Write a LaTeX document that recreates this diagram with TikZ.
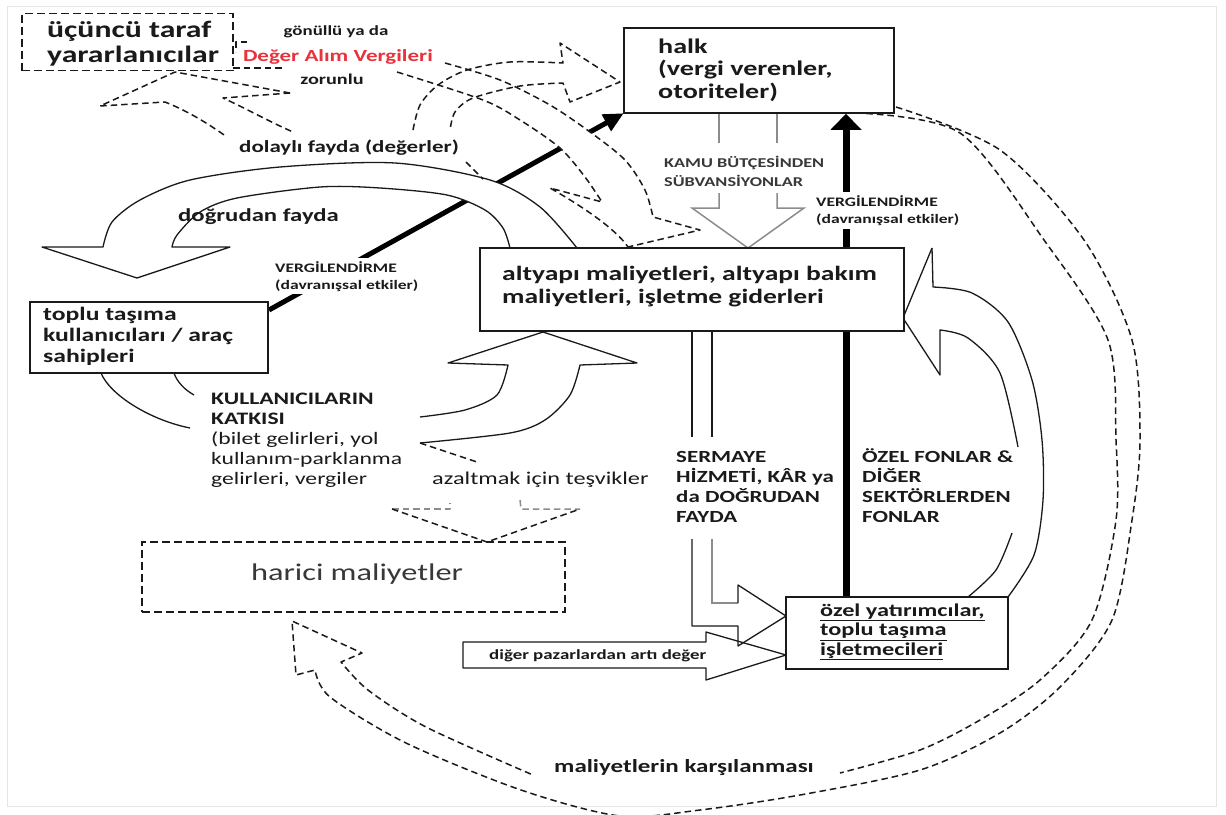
\documentclass[tikz,border=0pt]{standalone}
\usepackage{fontspec}
\setmainfont{Carlito}[FakeStretch=1.35]
\usetikzlibrary{arrows.meta,calc}
\newcommand\fsz[2]{\fontsize{#1}{#2}\selectfont}
\definecolor{ink}{HTML}{1A1A1A}
\definecolor{redtxt}{HTML}{E8323C}
\definecolor{grayln}{HTML}{8C8C8C}
\definecolor{dgray}{HTML}{383838}
\begin{document}
\begin{tikzpicture}[x=1pt,y=-1pt,
  solidln/.style={draw=ink, line width=1.3pt, line join=round},
  boxst/.style={draw=ink, line width=1.5pt, fill=white, inner sep=0pt},
  dboxst/.style={draw=ink, line width=1.5pt, dash pattern=on 8pt off 4pt, inner sep=0pt},
  dsh/.style={draw=ink, line width=1.5pt, dash pattern=on 6.5pt off 4pt, line join=round},
  gln/.style={draw=grayln, line width=1.5pt},
  thickln/.style={draw=black, line width=5pt},
  thickv/.style={draw=black, line width=7pt},
  txt/.style={inner sep=0pt, text=ink, align=left},
]
\useasboundingbox (0,0) rectangle (1226,814);
\fill[white] (0,0) rectangle (1226,814);
\draw[black!10, line width=1pt] (7,6) rectangle (1216,806);

% node geometry (boxes drawn later, but defined first for anchors)
\path (759,70.5) node[minimum width=270pt, minimum height=85pt, inner sep=0pt] (halkG) {};
\coordinate (d0) at (269,310);
\coordinate (vx) at (846,0);

% thick diagonal taxation arrow
\draw[thickln, -{Triangle[length=20pt,width=18pt]}] (d0) -- (halkG.south west);

% dogrudan fayda block arrow (white body)
\filldraw[solidln, fill=white] plot[smooth] coordinates {(577,248) (540,207) (490,180) (395,163) (280,167) (190,180) (140,200) (112,222) (103,247)}
  -- (42,247) -- (137,278) -- (230,247) -- (172,247)
  -- plot[smooth] coordinates {(172,247) (177,235) (200,212) (237,198) (320,187) (380,188) (447,195) (485,210) (503,228) (510,248)} -- cycle;

% big dashed arrow: Deger Alim Vergileri -> altyapi
\fill[white] plot[smooth] coordinates {(445,63) (500,80) (550,105) (590,132) (625,160) (645,190) (653,217)}
  -- (700,230) -- (628,247) .. controls (615,228) and (580,205) .. (550,188) -- (602,202)
  -- plot[smooth] coordinates {(602,202) (585,177) (560,148) (520,120) (483,100) (397,72)} -- cycle;
\draw[dsh] plot[smooth] coordinates {(445,63) (500,80) (550,105) (590,132) (625,160) (645,190) (653,217)} -- (700,230) -- (628,247);
\draw[dsh] plot[smooth] coordinates {(397,72) (483,100) (520,120) (560,148) (585,177) (602,202)} -- (550,188) .. controls (580,205) and (615,228) .. (628,247);

% dashed arrow to third-party beneficiaries
\draw[dsh] (290,93) -- (175,72) -- (100,106) -- (165,102) .. controls (190,112) and (210,125) .. (227,137);
\draw[dsh] (290,93) -- (223,98) .. controls (245,108) and (270,122) .. (293,132);
\draw[dsh] (233,68) -- (285,68);
\draw[dsh] (247,42) -- (236,42) -- (236,52);

% dashed arrow indirect benefit -> halk
\draw[dsh] plot[smooth] coordinates {(413,130) (420,105) (438,85) (467,70) (510,62) (563,63)} -- (560,43) -- (620,82) -- (570,102) -- (563,83)
  -- plot[smooth] coordinates {(563,83) (520,86) (473,98) (455,112) (450,130)};
\draw[dsh] (466,162) -- (483,179);

% user contribution block arrow
\draw[solidln] (101,373) .. controls (110,395) and (150,420) .. (190,428);
\draw[solidln] (174,373) .. controls (177,382) and (185,390) .. (194,395);
\draw[solidln] plot[smooth] coordinates {(420,417) (465,410) (497,395) (508,365)} -- (448,363) -- (543,332) -- (637,363) -- (580,365)
  -- plot[smooth] coordinates {(580,365) (570,395) (545,420) (510,433) (420,443)};

% incentives dashed arrow -> harici
\draw[dsh] (420,443) -- (477,462);
\draw[dsh, draw=grayln] (392,509) -- (450,509) -- (450,503);
\draw[dsh, draw=grayln] (520,500) -- (521,509) -- (580,509);
\draw[dsh] (392,509) -- (487,542) -- (580,509);

% subsidies (gray) arrow halk -> altyapi
\draw[gln] (719,113) -- (719,143);
\draw[gln] (777,113) -- (777,143);
\draw[gln] (719,193) -- (719,208) -- (692,208) -- (748,248) -- (804,208) -- (777,208) -- (777,193);

% right curved arrow ozel -> altyapi
\draw[solidln] (932,248) -- (903,318) -- (940,375) -- (940,330) -- plot[smooth] coordinates {(940,330) (968,338) (1000,373) (1018,447)};
\draw[solidln] (932,248) -- (933,287) -- plot[smooth] coordinates {(933,287) (972,293) (1008,322) (1032,380) (1042,440) (1043,500) (1034,555) (1008,597)};
\draw[solidln] plot[smooth] coordinates {(1012,533) (996,570) (968,597)};

% SERMAYE arrow altyapi -> ozel
\draw[solidln] (692,331) -- (692,437);
\draw[solidln] (712,331) -- (712,437);
\draw[solidln] (692,539) -- (692,626) -- (738,626) -- (738,646) -- (786,616);
\draw[gln] (712,539) -- (712,603) -- (738,603);
\draw[solidln] (738,603) -- (738,585) -- (786,616);

% other markets arrow
\draw[solidln] (463,642) -- (706,642) -- (706,632) -- (786,655) -- (706,680) -- (706,668) -- (463,668) -- cycle;

% cost coverage dashed arrow
\draw[dsh] plot[smooth] coordinates {(896,107) (1000,150) (1084,240) (1132,340) (1140,440) (1132,520) (1112,620) (1060,687) (1000,733) (920,770) (800,795) (700,810) (620,816) (521,790) (406,743) (330,697) (315,670)}
  -- (296,675) -- (292,621) -- (362,653) -- (341,662)
  -- plot[smooth] coordinates {(341,662) (368,690) (426,727) (533,775)};
\draw[dsh] plot[smooth] coordinates {(856,113) (960,133) (1044,240) (1108,340) (1116,440) (1116,520) (1092,620) (1040,680) (980,720) (920,750) (840,773)};

% boxes
\node[boxst, minimum width=270pt, minimum height=85pt] (halk) at (759,70.5) {};
\node[boxst, minimum width=424pt, minimum height=83pt] (alt) at (692,289.5) {};
\node[boxst, minimum width=238pt, minimum height=71pt] (toplu) at (149,337.5) {};
\node[boxst, minimum width=222pt, minimum height=72pt] (ozel) at (897,633) {};
\node[dboxst, minimum width=211pt, minimum height=57pt] (ucuncu) at (127.5,42) {};
\node[dboxst, minimum width=423pt, minimum height=70pt] (harici) at (353.5,577) {};

% thick vertical arrows
\draw[thickv] (ozel.north -| vx) -- (alt.south -| vx);
\draw[thickv, -{Triangle[length=16pt,width=30pt]}] (alt.north -| vx) -- (halk.south -| vx);

% labels (anchor = baseline of the last line)
\node[txt, anchor=base west, font=\bfseries\fsz{23.5}{25}] (ucT) at (47,62) {üçüncü taraf\\yararlanıcılar};
\node[txt, anchor=base, font=\bfseries\fsz{14}{16}] (gonT) at (336,35.5) {gönüllü ya da};
\node[txt, anchor=base, text=redtxt, font=\bfseries\fsz{17}{19}] (degT) at (338,61) {Değer Alım Vergileri};
\node[txt, anchor=base, font=\bfseries\fsz{15}{17}] (zorT) at (332,84) {zorunlu};
\node[txt, anchor=base west, font=\bfseries\fsz{17}{19}] (dolT) at (239,152) {dolaylı fayda (değerler)};
\node[txt, anchor=base west, font=\bfseries\fsz{18.3}{20}] (dogT) at (178,221) {doğrudan fayda};
\node[txt, anchor=base west, fill=white, inner xsep=2pt, inner ysep=3pt, font=\bfseries\fsz{13}{17}] (verL) at (273,289) {VERGİLENDİRME\\(davranışsal etkiler)};
\node[txt, anchor=base west, font=\bfseries\fsz{19}{21}] (topT) at (43,362.5) {toplu taşıma\\kullanıcıları / araç\\sahipleri};
\node[txt, anchor=base west, font=\bfseries\fsz{20.4}{22.5}] (altT) at (502,303) {altyapı maliyetleri, altyapı bakım\\maliyetleri, işletme giderleri};
\node[txt, anchor=base west, font=\bfseries\fsz{20.8}{22.5}] (halkT) at (658,98) {halk\\(vergi verenler,\\otoriteler)};
\node[txt, anchor=base west, text=dgray, font=\bfseries\fsz{13.5}{19}] (kamuT) at (664,186) {KAMU BÜTÇESİNDEN\\SÜBVANSİYONLAR};
\node[txt, anchor=base west, fill=white, inner xsep=2pt, inner ysep=3pt, font=\bfseries\fsz{13}{17.5}] (verR) at (814,223.5) {VERGİLENDİRME\\(davranışsal etkiler)};
\node[txt, anchor=base west, font=\bfseries\fsz{17.5}{20}] (kulT) at (211,424) {KULLANICILARIN\\KATKISI};
\node[txt, anchor=base west, font=\fsz{17.5}{20}] (kulT2) at (211,484) {(bilet gelirleri, yol\\kullanım-parklanma\\gelirleri, vergiler};
\node[txt, anchor=base west, font=\fsz{18}{20}] (azT) at (432,484) {azaltmak için teşvikler};
\node[txt, anchor=base, text=dgray, font=\fsz{24}{26}] (harT) at (357,580) {harici maliyetler};
\node[txt, anchor=base west, font=\bfseries\fsz{17}{20}] (serT) at (676,522.5) {SERMAYE\\HİZMETİ, KÂR ya\\da DOĞRUDAN\\FAYDA};
\node[txt, anchor=base west, font=\bfseries\fsz{17}{20}] (ozfT) at (862,522.5) {ÖZEL FONLAR \&\\DİĞER\\SEKTÖRLERDEN\\FONLAR};
\node[txt, anchor=base west, font=\bfseries\fsz{18}{19.5}] (ozT) at (820,655) {\underline{özel yatırımcılar,}\\\underline{toplu taşıma}\\\underline{işletmecileri}};
\node[txt, anchor=base west, font=\bfseries\fsz{14}{16}] (digT) at (489,659) {diğer pazarlardan artı değer};
\node[txt, anchor=base west, font=\bfseries\fsz{18.5}{20}] (malT) at (554,772) {maliyetlerin karşılanması};
\end{tikzpicture}
\end{document}
